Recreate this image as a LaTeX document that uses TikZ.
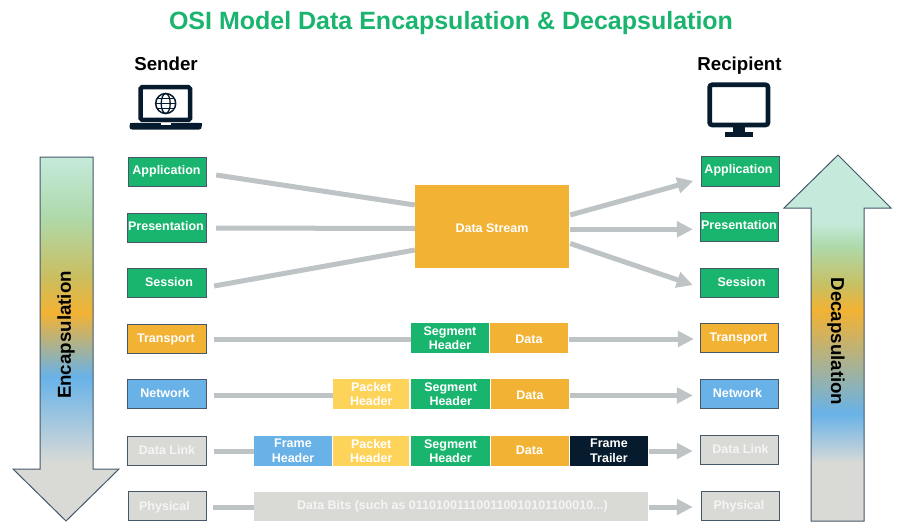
\documentclass[tikz,border=0pt]{standalone}
\usepackage{fontspec}
\setmainfont{Liberation Sans}
\usetikzlibrary{arrows.meta}
\definecolor{cgreen}{HTML}{19B56F}
\definecolor{corange}{HTML}{F2B233}
\definecolor{cblue}{HTML}{68B2E8}
\definecolor{cgray}{HTML}{D9DAD6}
\definecolor{cyellow}{HTML}{FED35A}
\definecolor{cnavy}{HTML}{061C2E}
\definecolor{cedge}{HTML}{44586A}
\definecolor{cline}{HTML}{BEC3C6}
\definecolor{ctxt}{HTML}{F5F5F5}
\definecolor{grada}{HTML}{C5EADB}
\definecolor{gradb}{HTML}{AEDAAC}
\definecolor{gradc}{HTML}{C9BF62}
\pgfdeclareverticalshading{encgrad}{100bp}{color(0bp)=(cgray); color(33bp)=(cgray); color(44.8bp)=(cblue); color(53.6bp)=(corange); color(58.8bp)=(gradc); color(67bp)=(gradb); color(75bp)=(grada); color(100bp)=(grada)}
\pgfdeclareverticalshading{decgrad}{100bp}{color(0bp)=(cgray); color(32.9bp)=(cgray); color(39.7bp)=(cblue); color(53.8bp)=(corange); color(57.2bp)=(gradc); color(62.7bp)=(gradb); color(65.7bp)=(grada); color(100bp)=(grada)}
% #1 horizontal nudge (half takes effect), #2 cap-centre height above the node centre
\newcommand{\tx}[3]{\hspace*{#1}\raisebox{0pt}[\dimexpr 9pt-2\dimexpr #2\relax\relax][0pt]{#3}}
\tikzset{
  lyr/.style={draw=cedge,line width=.9pt,minimum height=29.4pt,inner sep=0pt,text=white,font=\bfseries\fontsize{12.5}{14.5}\selectfont},
  cell/.style={minimum height=30pt,inner sep=0pt,text=white,align=center,font=\bfseries\fontsize{12.5}{14.5}\selectfont},
  conn/.style={draw=cline,line width=5pt},
  arr/.style={conn,-{Triangle[length=16pt,width=15.5pt]}},
  head/.style={font=\bfseries\fontsize{18.7}{22}\selectfont,text=black,inner sep=0pt},
  bigarrow/.style={draw=cedge,line width=1pt}
}
\begin{document}
\begin{tikzpicture}[x=1pt,y=-1pt]
\useasboundingbox (0,0) rectangle (904,532);
\fill[white] (0,0) rectangle (904,532);
\node[anchor=base,inner sep=0pt,text=cgreen,font=\bfseries\fontsize{25}{28}\selectfont] (title) at (451,29.5) {OSI Model Data Encapsulation \& Decapsulation};
\node[head,anchor=base] (sender) at (166,71) {Sender};
\node[head,anchor=base] (recipient) at (739.5,71) {Recipient};
% laptop
\draw[cnavy,line width=4.5pt,rounded corners=1.5pt,fill=white] (140.7,87.2) rectangle (190,120);
\fill[cnavy,rounded corners=2.5pt] (129.5,123) -- (201.7,123) -- (201.7,129.5) -- (129.5,129.5) -- cycle;
\fill[cnavy] (129.5,123) rectangle (201.7,126);
\fill[white] (160.7,123) rectangle (170.7,125);
\draw[cnavy,line width=1.5pt] (165.7,103.5) circle (10);
\draw[cnavy,line width=1.3pt] (165.7,103.5) ellipse (4.5 and 10);
\draw[cnavy,line width=1.3pt] (155.7,103.5) -- (175.7,103.5) (157.2,98.5) -- (174.2,98.5) (157.2,108.5) -- (174.2,108.5);
% monitor
\draw[cnavy,line width=4.7pt,rounded corners=2.5pt,fill=white] (709.7,84.8) rectangle (768,125);
\fill[cnavy] (732.7,126) rectangle (744.7,132);
\fill[cnavy] (724.7,131.7) rectangle (752.7,136.5);
% big arrows
\path[shade,shading=encgrad] (40,157) -- (93,157) -- (93,469) -- (119,469) -- (66,521) -- (13,469) -- (40,469) -- cycle;
\path[shade,shading=decgrad] (838,155) -- (891,208) -- (864,208) -- (864,521) -- (811,521) -- (811,208) -- (784,208) -- cycle;
\draw[bigarrow] (40,157) -- (93,157) -- (93,469) -- (119,469) -- (66,521) -- (13,469) -- (40,469) -- cycle;
\draw[bigarrow] (838,155) -- (891,208) -- (864,208) -- (864,521) -- (811,521) -- (811,208) -- (784,208) -- cycle;
\node[head,rotate=90] (enc) at (66,335) {Encapsulation};
\node[head,rotate=-90] (dec) at (836,341.5) {Decapsulation};
% left layers
\node[lyr,fill=cgreen,minimum width=78.5pt] (lApp) at (167.5,172) {\tx{-2pt}{2pt}{Application}};
\node[lyr,fill=cgreen,minimum width=79.4pt] (lPre) at (167,228) {\tx{-2pt}{2pt}{Presentation}};
\node[lyr,fill=cgreen,minimum width=79.4pt] (lSes) at (167,283) {\tx{4pt}{1.3pt}{Session}};
\node[lyr,fill=corange,minimum width=79.4pt] (lTra) at (167,339) {\tx{-2pt}{1.3pt}{Transport}};
\node[lyr,fill=cblue,minimum width=79.4pt] (lNet) at (167,394) {\tx{-4pt}{.7pt}{Network}};
\node[lyr,fill=cgray,minimum width=79.4pt,text=ctxt] (lDat) at (167,451) {\tx{0pt}{1pt}{Data Link}};
\node[lyr,fill=cgray,minimum width=78.5pt,text=ctxt] (lPhy) at (167.5,506) {\tx{-6pt}{.3pt}{Physical}};
% right layers
\node[lyr,fill=cgreen,minimum width=78.5pt] (rApp) at (740.5,171.5) {\tx{-4pt}{2.2pt}{Application}};
\node[lyr,fill=cgreen,minimum width=78.5pt] (rPre) at (739.5,227) {\tx{-1pt}{1.7pt}{Presentation}};
\node[lyr,fill=cgreen,minimum width=78.5pt] (rSes) at (739.5,283) {\tx{4pt}{1pt}{Session}};
\node[lyr,fill=corange,minimum width=78.5pt] (rTra) at (739.5,338) {\tx{-2pt}{.7pt}{Transport}};
\node[lyr,fill=cblue,minimum width=78.5pt] (rNet) at (739.5,394) {\tx{-4pt}{.7pt}{Network}};
\node[lyr,fill=cgray,minimum width=78.5pt,text=ctxt] (rDat) at (739.5,450) {\tx{2pt}{.7pt}{Data Link}};
\node[lyr,fill=cgray,minimum width=78.5pt,text=ctxt] (rPhy) at (740.5,506) {\tx{-3pt}{1pt}{Physical}};
% middle
\node[cell,fill=corange,minimum width=154pt,minimum height=83pt] (ds) at (492,226.5) {\tx{0pt}{-1.8pt}{Data Stream}};
\node[cell,fill=cgreen,minimum width=78pt] (s1) at (450,338) {Segment\\Header};
\node[cell,fill=corange,minimum width=78pt] (d1) at (529,338) {\tx{0pt}{-1.3pt}{Data}};
\node[cell,fill=cyellow,minimum width=76.5pt] (p2) at (371.2,394) {Packet\\Header};
\node[cell,fill=cgreen,minimum width=78.5pt] (s2) at (450.7,394) {Segment\\Header};
\node[cell,fill=corange,minimum width=78pt] (d2) at (530,394) {\tx{0pt}{-.7pt}{Data}};
\node[cell,fill=cblue,minimum width=78pt] (f3) at (293,451) {Frame\\Header};
\node[cell,fill=cyellow,minimum width=76.5pt] (p3) at (371.2,451) {Packet\\Header};
\node[cell,fill=cgreen,minimum width=78.5pt] (s3) at (450.5,451) {Segment\\Header};
\node[cell,fill=corange,minimum width=78pt] (d3) at (529.5,451) {\tx{0pt}{1pt}{Data}};
\node[cell,fill=cnavy,minimum width=78pt] (t3) at (609,451) {Frame\\Trailer};
\node[cell,fill=cgray,minimum width=394pt,minimum height=29.5pt,text=ctxt] (bits) at (451,506.5) {\tx{3pt}{1.2pt}{Data Bits (such as 011010011100110010101100010...)}};
% connectors left
\draw[conn] ([xshift=9pt,yshift=-3pt]lApp.east) -- ([yshift=21.5pt]ds.west);
\draw[conn] ([xshift=9pt]lPre.east) -- ([yshift=-2pt]ds.west);
\draw[conn] ([xshift=7pt,yshift=-3pt]lSes.east) -- ([yshift=-23.5pt]ds.west);
\draw[conn] ([xshift=7pt]lTra.east) -- ([yshift=-1pt]s1.west);
\draw[conn] ([xshift=7pt,yshift=-1.5pt]lNet.east) -- ([yshift=-1.5pt]p2.west);
\draw[conn] ([xshift=7pt]lDat.east) -- (f3.west);
\draw[conn] ([xshift=6pt,yshift=-1pt]lPhy.east) -- ([yshift=-.5pt]bits.west);
% connectors right
\draw[arr] ([xshift=1pt,yshift=11.5pt]ds.east) -- ([xshift=-7.5pt,yshift=-9.5pt]rApp.west);
\draw[arr] ([xshift=1pt,yshift=-2.8pt]ds.east) -- ([xshift=-7pt,yshift=-2.3pt]rPre.west);
\draw[arr] ([xshift=1pt,yshift=-17pt]ds.east) -- ([xshift=-7pt,yshift=-2pt]rSes.west);
\draw[arr] ([xshift=1pt,yshift=-1pt]d1.east) -- ([xshift=-6pt,yshift=-1pt]rTra.west);
\draw[arr] ([xshift=.5pt,yshift=-1.5pt]d2.east) -- ([xshift=-7pt,yshift=-1.5pt]rNet.west);
\draw[arr] ([xshift=1pt]t3.east) -- ([xshift=-7pt,yshift=-1pt]rDat.west);
\draw[arr] ([xshift=1pt,yshift=-.5pt]bits.east) -- ([xshift=-8pt,yshift=-1pt]rPhy.west);
\end{tikzpicture}
\end{document}
